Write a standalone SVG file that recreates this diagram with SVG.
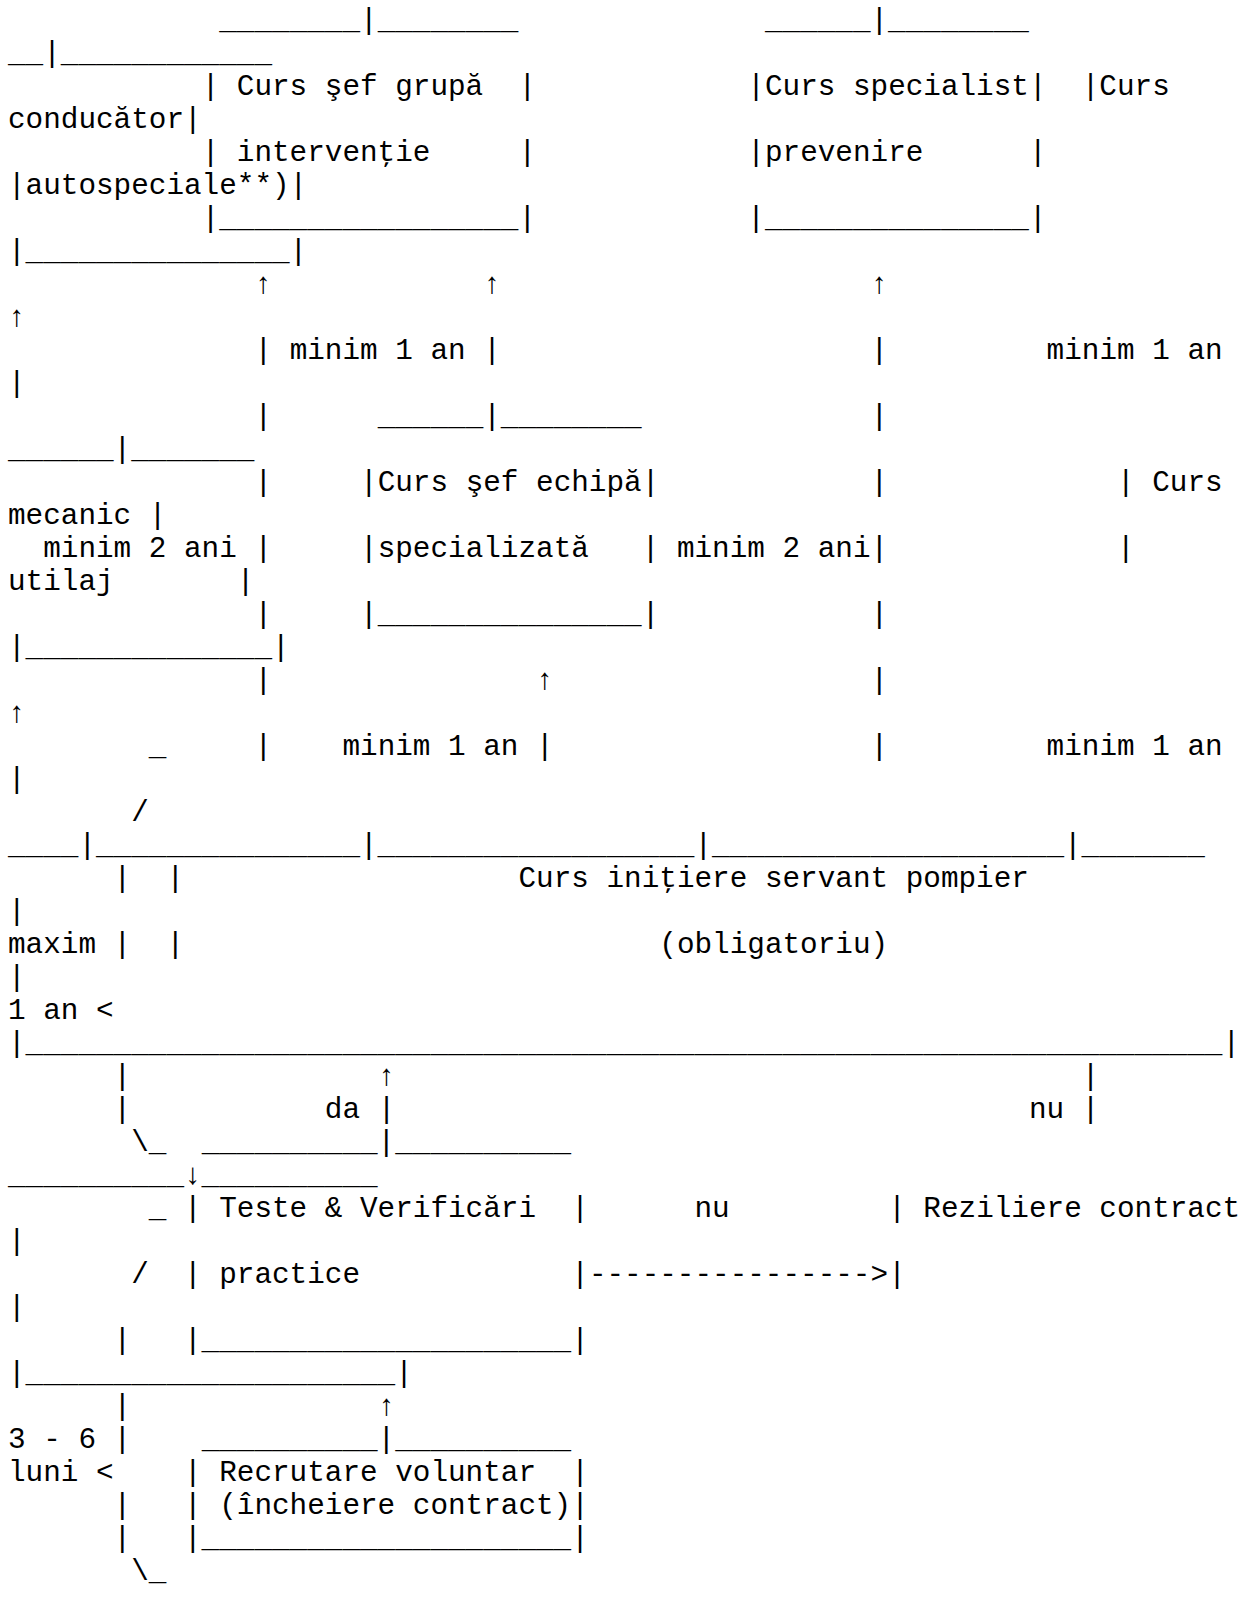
<svg xmlns="http://www.w3.org/2000/svg" width="1248" height="1599" viewBox="0 0 1248 1599" xml:space="preserve">
<style>
text { font-family: "Liberation Mono", "Courier New", monospace; font-size: 29.333px; fill: #000; white-space: pre; }
</style>
<rect x="0" y="0" width="1248" height="1599" fill="#fff"/>
<g id="node-sef-grupa">
<text x="219.24" y="29">________|________</text>
<text x="201.63" y="95">| Curs şef grupă  |</text>
<text x="201.63" y="161">| intervenţie     |</text>
<text x="201.63" y="227">|_________________|</text>
</g>
<g id="node-specialist">
<text x="764.93" y="29">______|________</text>
<text x="747.33" y="95">|Curs specialist|</text>
<text x="747.33" y="161">|prevenire      |</text>
<text x="747.33" y="227">|_______________|</text>
</g>
<g id="node-conducator">
<text x="8" y="62">__|____________</text>
<text x="1081.78" y="95">|Curs</text>
<text x="8" y="128">conducător|</text>
<text x="8" y="194">|autospeciale**)|</text>
<text x="8" y="260">|_______________|</text>
</g>
<g id="node-sef-echipa">
<text x="377.66" y="425">______|________</text>
<text x="360.06" y="491">|Curs şef echipă|</text>
<text x="360.06" y="557">|specializată   |</text>
<text x="360.06" y="623">|_______________|</text>
</g>
<g id="node-mecanic">
<text x="8" y="458">______|_______</text>
<text x="1116.99" y="491">| Curs</text>
<text x="8" y="524">mecanic |</text>
<text x="1116.99" y="557">|</text>
<text x="8" y="590">utilaj       |</text>
<text x="8" y="656">|______________|</text>
</g>
<g id="node-initiere">
<text x="8" y="854">____|_______________|__________________|____________________|_______</text>
<text x="166.43" y="887">|</text>
<text x="518.49" y="887">Curs iniţiere servant pompier</text>
<text x="8" y="920">|</text>
<text x="166.43" y="953">|</text>
<text x="659.31" y="953">(obligatoriu)</text>
<text x="8" y="986">|</text>
<text x="8" y="1052">|____________________________________________________________________|</text>
</g>
<g id="node-teste">
<text x="201.63" y="1151">__________|__________</text>
<text x="184.03" y="1217">| Teste &amp; Verificări  |</text>
<text x="184.03" y="1283">| practice            |</text>
<text x="184.03" y="1349">|_____________________|</text>
</g>
<g id="node-reziliere">
<text x="8" y="1184">__________↓__________</text>
<text x="888.15" y="1217">| Reziliere contract</text>
<text x="8" y="1250">|</text>
<text x="888.15" y="1283">|</text>
<text x="8" y="1316">|</text>
<text x="8" y="1382">|_____________________|</text>
</g>
<g id="node-recrutare">
<text x="201.63" y="1448">__________|__________</text>
<text x="184.03" y="1481">| Recrutare voluntar  |</text>
<text x="184.03" y="1514">| (încheiere contract)|</text>
<text x="184.03" y="1547">|_____________________|</text>
</g>
<g id="connectors">
<text x="254.44" y="293">↑</text>
<text x="483.28" y="293">↑</text>
<text x="870.55" y="293">↑</text>
<text x="8" y="326">↑</text>
<text x="254.44" y="359">| minim 1 an |</text>
<text x="870.55" y="359">|</text>
<text x="1046.58" y="359">minim 1 an</text>
<text x="8" y="392">|</text>
<text x="254.44" y="425">|</text>
<text x="870.55" y="425">|</text>
<text x="254.44" y="491">|</text>
<text x="870.55" y="491">|</text>
<text x="43.21" y="557">minim 2 ani |</text>
<text x="676.91" y="557">minim 2 ani|</text>
<text x="254.44" y="623">|</text>
<text x="870.55" y="623">|</text>
<text x="254.44" y="689">|</text>
<text x="536.09" y="689">↑</text>
<text x="870.55" y="689">|</text>
<text x="8" y="722">↑</text>
<text x="254.44" y="755">|</text>
<text x="342.46" y="755">minim 1 an |</text>
<text x="870.55" y="755">|</text>
<text x="1046.58" y="755">minim 1 an</text>
<text x="8" y="788">|</text>
<text x="377.66" y="1085">↑</text>
<text x="1081.78" y="1085">|</text>
<text x="324.85" y="1118">da |</text>
<text x="1028.97" y="1118">nu |</text>
<text x="694.52" y="1217">nu</text>
<text x="588.89" y="1283">----------------&gt;</text>
<text x="377.66" y="1415">↑</text>
</g>
<g id="annotations">
<text x="148.82" y="755">_</text>
<text x="131.22" y="821">/</text>
<text x="113.62" y="887">|</text>
<text x="8" y="953">maxim |</text>
<text x="8" y="1019">1 an &lt;</text>
<text x="113.62" y="1085">|</text>
<text x="113.62" y="1118">|</text>
<text x="131.22" y="1151">\_</text>
<text x="148.82" y="1217">_</text>
<text x="131.22" y="1283">/</text>
<text x="113.62" y="1349">|</text>
<text x="113.62" y="1415">|</text>
<text x="8" y="1448">3 - 6 |</text>
<text x="8" y="1481">luni &lt;</text>
<text x="113.62" y="1514">|</text>
<text x="113.62" y="1547">|</text>
<text x="131.22" y="1580">\_</text>
</g>
</svg>
